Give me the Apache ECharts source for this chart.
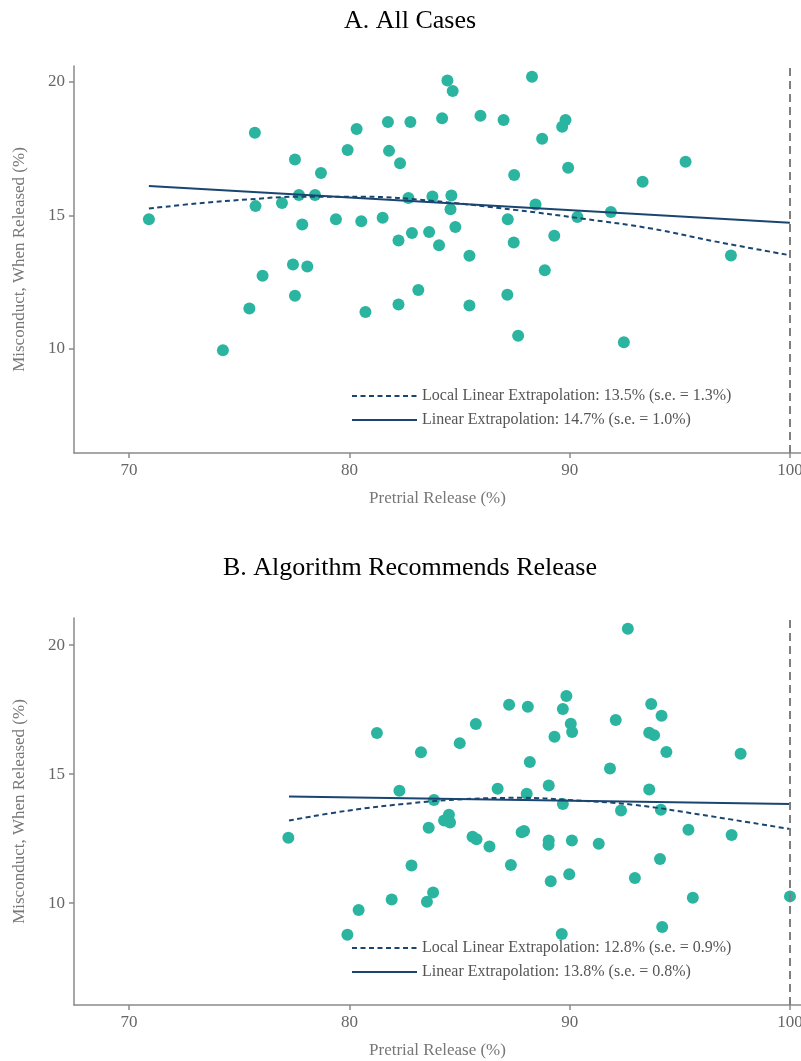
<!DOCTYPE html>
<html>
<head>
<meta charset="utf-8">
<style>
  html, body { margin: 0; padding: 0; background: #fff; }
  #chart { width: 801px; height: 1061px; }
</style>
</head>
<body>
<div id="chart"></div>
<script src="https://cdn.jsdelivr.net/npm/echarts@6/dist/echarts.min.js"></script>
<script>
// panel A: all cases
var releaseA = [70.9, 74.26, 75.71, 75.74, 75.46, 76.06, 76.94, 77.53, 77.44, 77.53, 77.71, 77.86, 78.09, 78.44, 78.71,
  79.39, 79.92, 80.33, 80.54, 80.73, 81.51, 81.75, 81.80, 82.23, 82.23, 82.30, 82.68, 82.77, 82.84, 83.13, 83.62,
  83.77, 84.07, 84.21, 84.45, 84.69, 84.63, 84.59, 84.81, 85.45, 85.45, 85.95, 87.0, 87.48, 87.19, 87.46, 87.17,
  87.66, 88.29, 88.45, 88.75, 88.87, 89.30, 89.66, 89.81, 89.93, 90.35, 91.87, 92.46, 93.31, 95.26, 97.32];
var misconductA = [14.86, 9.95, 18.10, 15.35, 11.51, 12.74, 15.47, 17.10, 13.16, 11.99, 15.77, 14.66, 13.09, 15.77, 16.59,
  14.86, 17.45, 18.24, 14.78, 11.38, 14.91, 18.50, 17.42, 14.06, 11.66, 16.96, 15.65, 18.50, 14.34, 12.21, 14.38,
  15.71, 13.88, 18.64, 20.06, 19.66, 15.75, 15.23, 14.57, 13.49, 11.63, 18.74, 18.58, 16.52, 14.86, 13.99, 12.03,
  10.49, 20.20, 15.41, 17.87, 12.95, 14.24, 18.32, 18.58, 16.79, 14.94, 15.13, 10.25, 16.26, 17.01, 13.50];
var linearXA = [70.9, 100];
var linearYA = [16.10, 14.73];
var localXA = [70.9, 73.1, 75.4, 77.6, 80.7, 83.7, 87.6, 90.6, 93.7, 96.7, 100];
var localYA = [15.26, 15.45, 15.60, 15.70, 15.70, 15.55, 15.20, 14.88, 14.51, 14.01, 13.51];

// panel B: algorithm recommends release
var releaseB = [81.25, 83.25, 82.27, 83.84, 83.60, 77.23, 82.82, 81.92, 83.80, 83.52, 80.42, 79.91, 92.64, 87.25, 88.10,
  89.85, 89.69, 90.05, 90.11, 89.31, 85.74, 85.01, 92.09, 93.70, 94.17, 93.61, 93.83, 94.39, 97.76, 88.19, 91.83,
  86.73, 89.05, 88.05, 93.61, 89.69, 92.33, 94.14, 84.52, 84.30, 84.57, 85.59, 85.77, 86.36, 87.82, 87.93, 89.05,
  89.04, 90.10, 91.32, 95.39, 97.35, 87.33, 94.10, 89.98, 89.14, 92.96, 95.59, 100.0, 89.64, 94.20];
var misconductB = [16.59, 15.85, 14.35, 14.00, 12.92, 12.53, 11.46, 10.14, 10.41, 10.05, 9.73, 8.77, 20.63, 17.69, 17.61,
  18.03, 17.52, 16.95, 16.63, 16.45, 16.94, 16.20, 17.10, 17.72, 17.26, 16.60, 16.51, 15.86, 15.79, 15.47, 15.22,
  14.43, 14.56, 14.24, 14.40, 13.84, 13.59, 13.62, 13.42, 13.20, 13.12, 12.57, 12.47, 12.19, 12.75, 12.79, 12.43,
  12.26, 12.43, 12.30, 12.84, 12.64, 11.48, 11.71, 11.12, 10.85, 10.97, 10.21, 10.26, 8.80, 9.07];
var linearXB = [77.26, 100];
var linearYB = [14.13, 13.84];
var localXB = [77.26, 79.9, 82.9, 85.2, 87.8, 89.9, 92.9, 96.0, 100];
var localYB = [13.20, 13.58, 13.88, 14.03, 14.08, 14.00, 13.81, 13.42, 12.87];

var xTicks = [70, 80, 90, 100];
var yTicks = [10, 15, 20];

var titles = ['A. All Cases', 'B. Algorithm Recommends Release'];
var legendA = ['Local Linear Extrapolation: 13.5% (s.e. = 1.3%)', 'Linear Extrapolation: 14.7% (s.e. = 1.0%)'];
var legendB = ['Local Linear Extrapolation: 12.8% (s.e. = 0.9%)', 'Linear Extrapolation: 13.8% (s.e. = 0.8%)'];

var font = '"Liberation Serif", "DejaVu Serif", serif';
var teal = '#2bb5a0';
var navy = '#1b4571';
var axisGrey = '#8a8a8a';

function zip(xs, ys) {
  return xs.map(function (x, i) { return [x, ys[i]]; });
}

function xAxisFor(idx) {
  return {
    type: 'value', gridIndex: idx, min: 67.5, max: 100.5,
    name: 'Pretrial Release (%)', nameLocation: 'middle', nameGap: 37,
    nameTextStyle: { color: '#777', fontSize: 17, fontFamily: font },
    axisLine: { show: true, onZero: false, lineStyle: { color: axisGrey, width: 1.5 } },
    axisTick: { show: true, length: 5, customValues: xTicks, lineStyle: { color: axisGrey, width: 1.5 } },
    axisLabel: { customValues: xTicks, color: '#666', fontSize: 17, fontFamily: font, margin: 9 },
    splitLine: { show: false }
  };
}

function yAxisFor(idx, min, max) {
  return {
    type: 'value', gridIndex: idx, min: min, max: max,
    name: 'Misconduct, When Released (%)', nameLocation: 'middle', nameGap: 46,
    nameTextStyle: { color: '#777', fontSize: 17, fontFamily: font },
    axisLine: { show: true, onZero: false, lineStyle: { color: axisGrey, width: 1.5 } },
    axisTick: { show: true, length: 5, customValues: yTicks, lineStyle: { color: axisGrey, width: 1.5 } },
    axisLabel: { customValues: yTicks, color: '#666', fontSize: 17, fontFamily: font, margin: 9 },
    splitLine: { show: false }
  };
}

var vline = {
  silent: true, symbol: 'none', label: { show: false },
  lineStyle: { color: '#7f7f7f', width: 2, type: [8, 5] },
  data: [{ xAxis: 100 }]
};

function panelSeries(idx, xs, ys, lx, ly, cx, cy, names) {
  return [
    {
      type: 'scatter', xAxisIndex: idx, yAxisIndex: idx, data: zip(xs, ys),
      symbolSize: 12, itemStyle: { color: teal, opacity: 1 }, z: 2,
      markLine: vline
    },
    {
      name: names[0], type: 'line', xAxisIndex: idx, yAxisIndex: idx, data: zip(cx, cy),
      smooth: 0.4, symbol: 'none', z: 3,
      lineStyle: { color: navy, width: 2, type: [5, 3.5] }, itemStyle: { color: navy }
    },
    {
      name: names[1], type: 'line', xAxisIndex: idx, yAxisIndex: idx, data: zip(lx, ly),
      symbol: 'none', z: 3,
      lineStyle: { color: navy, width: 2 }, itemStyle: { color: navy }
    }
  ];
}

function legendFor(top, names) {
  return {
    data: names, orient: 'vertical', left: 346, top: top,
    itemWidth: 65, itemHeight: 14, itemGap: 8,
    itemStyle: { opacity: 0 },
    textStyle: { color: '#555', fontSize: 16, fontFamily: font },
    selectedMode: false
  };
}

var chart = echarts.init(document.getElementById('chart'));
chart.setOption({
  backgroundColor: '#fff',
  animation: false,
  title: [
    { text: titles[0], left: 405, textAlign: 'center', top: 3,
      textStyle: { fontSize: 26, fontWeight: 'normal', color: '#000', fontFamily: font } },
    { text: titles[1], left: 405, textAlign: 'center', top: 550,
      textStyle: { fontSize: 26, fontWeight: 'normal', color: '#000', fontFamily: font } }
  ],
  legend: [legendFor(383, legendA), legendFor(935, legendB)],
  grid: [
    { left: 74, top: 66, width: 727, height: 387, outerBoundsMode: 'none', containLabel: false },
    { left: 74, top: 618, width: 727, height: 387, outerBoundsMode: 'none', containLabel: false }
  ],
  xAxis: [xAxisFor(0), xAxisFor(1)],
  yAxis: [yAxisFor(0, 6.1, 20.6), yAxisFor(1, 6.05, 21.05)],
  series: panelSeries(0, releaseA, misconductA, linearXA, linearYA, localXA, localYA, legendA)
    .concat(panelSeries(1, releaseB, misconductB, linearXB, linearYB, localXB, localYB, legendB))
});
</script>
</body>
</html>
